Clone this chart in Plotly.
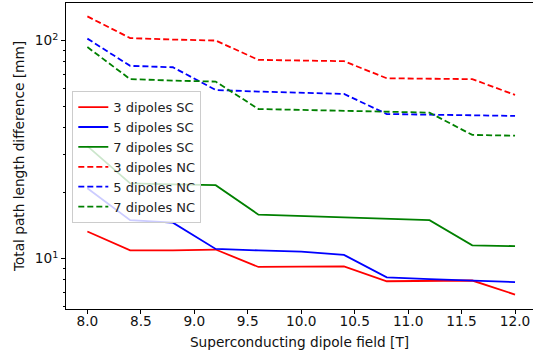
import plotly.graph_objects as go
import math

field = [8.0, 8.4, 8.8, 9.2, 9.6, 10.0, 10.4, 10.8, 11.2, 11.6, 12.0]

sc3 = [13.3, 10.9, 10.9, 11.0, 9.15, 9.15, 9.2, 7.87, 7.9, 7.93, 6.84]
sc5 = [21.0, 15.0, 14.6, 11.07, 10.9, 10.75, 10.4, 8.2, 8.05, 7.93, 7.8]
sc7 = [32.8, 22.1, 21.9, 21.7, 15.9, 15.65, 15.4, 15.2, 15.0, 11.5, 11.4]
nc3 = [129.0, 102.6, 101.0, 100.0, 81.5, 80.9, 80.4, 67.1, 66.7, 66.5, 56.3]
nc5 = [102.0, 76.5, 75.4, 59.3, 58.3, 57.7, 56.9, 46.0, 45.7, 45.4, 45.1]
nc7 = [93.3, 66.5, 65.5, 64.8, 48.5, 48.1, 47.5, 47.2, 46.7, 36.9, 36.6]

series = [
    ("3 dipoles SC", sc3, "#ff0000", "solid"),
    ("5 dipoles SC", sc5, "#0000ff", "solid"),
    ("7 dipoles SC", sc7, "#008000", "solid"),
    ("3 dipoles NC", nc3, "#ff0000", "6px,3px"),
    ("5 dipoles NC", nc5, "#0000ff", "6px,3px"),
    ("7 dipoles NC", nc7, "#008000", "6px,3px"),
]

y_major = [10, 100]
y_major_text = ["10<sup>1</sup>", "10<sup>2</sup>"]
y_minor = [6, 7, 8, 9, 20, 30, 40, 50, 60, 70, 80, 90]
x_ticks = [8.0, 8.5, 9.0, 9.5, 10.0, 10.5, 11.0, 11.5, 12.0]

fig = go.Figure()
for name, vals, color, dash in series:
    fig.add_trace(go.Scatter(x=field, y=vals, mode="lines", name=name,
                             line=dict(color=color, width=1.8, dash=dash)))

FS = 13.7
font = dict(family="DejaVu Sans", size=FS, color="#111")
fig.update_layout(
    width=533, height=357,
    margin=dict(l=66, r=0, t=3, b=48),
    plot_bgcolor="white", paper_bgcolor="white",
    font=font,
    showlegend=True,
    legend=dict(x=0.0135, y=0.712, xanchor="left", yanchor="top",
                bgcolor="rgba(255,255,255,0.8)", bordercolor="#cccccc",
                borderwidth=1, font=dict(family="DejaVu Sans", size=13, color="#222"),
                itemwidth=30, tracegroupgap=0),
)
fig.update_xaxes(range=[7.8, 12.168], showgrid=False, zeroline=False,
                 showline=True, linecolor="black", linewidth=1, mirror=True,
                 ticks="outside", ticklen=4, tickwidth=1, tickcolor="black",
                 ticklabelstandoff=-4,
                 tickvals=x_ticks, ticktext=[f"{v:.1f}" for v in x_ticks],
                 title=dict(text="Superconducting dipole field [T]", standoff=8,
                            font=dict(family="DejaVu Sans", size=FS)))
fig.update_yaxes(type="log", range=[math.log10(5.87), math.log10(148.6)],
                 showgrid=False, zeroline=False,
                 showline=True, linecolor="black", linewidth=1, mirror=False,
                 ticks="outside", ticklen=4, tickwidth=1, tickcolor="black",
                 tickvals=y_major, ticktext=y_major_text,
                 minor=dict(tickvals=y_minor, ticks="outside", ticklen=2.5,
                            tickwidth=0.8, tickcolor="black", showgrid=False),
                 title=dict(text="Total path length difference [mm]", standoff=6,
                            font=dict(family="DejaVu Sans", size=FS)))

fig.write_html("out.html")
